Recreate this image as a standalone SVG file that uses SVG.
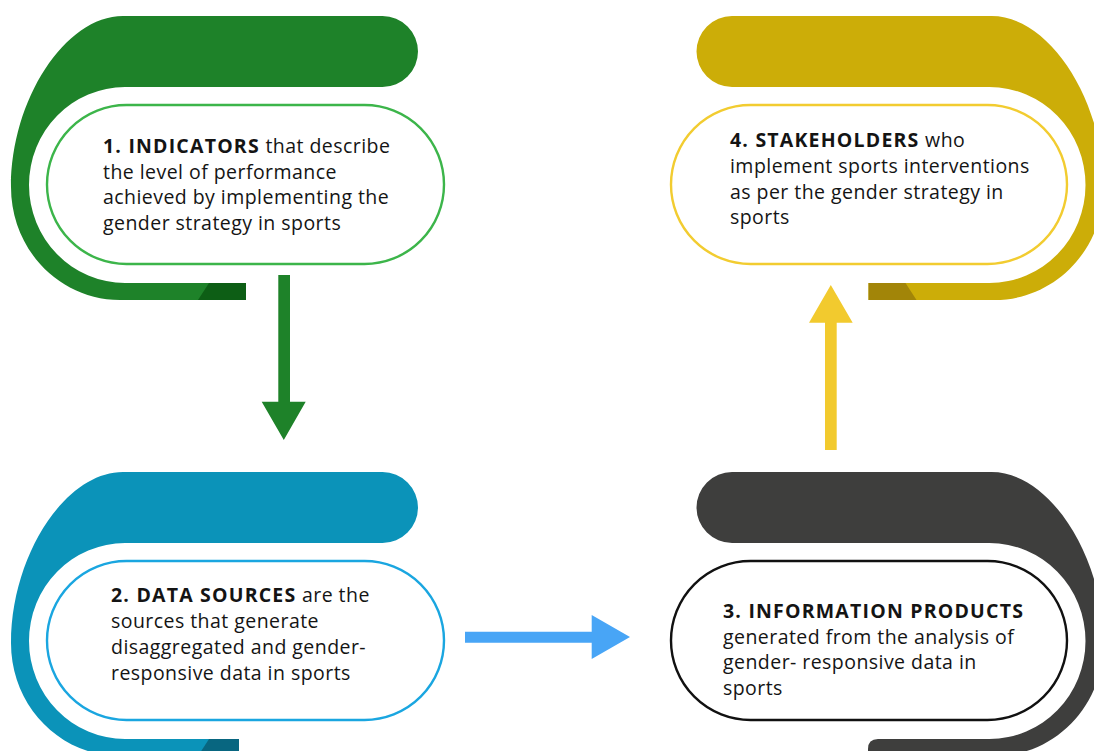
<svg xmlns="http://www.w3.org/2000/svg" width="1094" height="751" viewBox="0 0 1094 751">
  <style>
    .label { font-family: "Open Sans", Lato, "Liberation Sans", sans-serif; font-size: 19.5px; letter-spacing: 0.45px; fill: #141414; }
    .label .b { font-weight: 700; letter-spacing: 1.2px; }
    .pill { fill: #ffffff; stroke-width: 2.4; }
  </style>
  <defs>
    <!-- C-shaped band: top bar, curved spine, bottom tab (left-opening version) -->
    <path id="band" d="M 123,16 H 382.5 A 35.5,35.5 0 0 1 382.5,87 H 125 A 96,98 0 0 0 125,283 H 246 V 300 H 120 C 60,300 11,250 11,187 C 11,100 65,16 123,16 Z"/>
    <path id="bandShort" d="M 123,16 H 382.5 A 35.5,35.5 0 0 1 382.5,87 H 125 A 96,98 0 0 0 125,283 H 239 V 300 H 120 C 60,300 11,250 11,187 C 11,100 65,16 123,16 Z"/>
    <path id="bandRound" d="M 123,16 H 382.5 A 35.5,35.5 0 0 1 382.5,87 H 125 A 96,98 0 0 0 125,283 H 236.5 Q 246.5,283 246.5,293 V 300 H 120 C 60,300 11,250 11,187 C 11,100 65,16 123,16 Z"/>
  </defs>

  <rect width="1094" height="751" fill="#ffffff"/>

  <!-- 1. Indicators -->
  <g id="node-indicators">
    <use href="#band" fill="#1e8229"/>
    <polygon points="209,283 246,283 246,300 198,300" fill="#0d5e15"/>
    <rect class="pill" x="47" y="105" width="397" height="159" rx="79.5" stroke="#3cb54a"/>
    <text class="label" x="103" y="153"><tspan class="b">1. INDICATORS</tspan> that describe</text>
    <text class="label" x="103" y="178.5">the level of performance</text>
    <text class="label" x="103" y="204">achieved by implementing the</text>
    <text class="label" x="103" y="229.5">gender strategy in sports</text>
  </g>

  <!-- 2. Data sources -->
  <g id="node-data-sources">
    <use href="#bandShort" transform="translate(0,456)" fill="#0b93b9"/>
    <polygon points="209,739 239,739 239,756 198,756" fill="#086680"/>
    <rect class="pill" x="47" y="561" width="397" height="159" rx="79.5" stroke="#1aa6e0"/>
    <text class="label" x="111" y="602"><tspan class="b">2. DATA SOURCES</tspan> are the</text>
    <text class="label" x="111" y="628">sources that generate</text>
    <text class="label" x="111" y="654">disaggregated and gender-</text>
    <text class="label" x="111" y="680">responsive data in sports</text>
  </g>

  <!-- 3. Information products -->
  <g id="node-information-products">
    <use href="#bandRound" transform="translate(1114.5,456) scale(-1,1)" fill="#3e3e3d"/>
    <rect class="pill" x="671" y="561" width="396" height="159" rx="79.5" stroke="#111111"/>
    <text class="label" x="723" y="618"><tspan class="b">3. INFORMATION PRODUCTS</tspan></text>
    <text class="label" x="723" y="643.5">generated from the analysis of</text>
    <text class="label" x="723" y="669">gender- responsive data in</text>
    <text class="label" x="723" y="694.5">sports</text>
  </g>

  <!-- 4. Stakeholders -->
  <g id="node-stakeholders">
    <use href="#band" transform="translate(1114.5,0) scale(-1,1)" fill="#ccad08"/>
    <polygon points="905.5,283 868.5,283 868.5,300 916.5,300" fill="#a28508"/>
    <rect class="pill" x="671" y="105" width="396" height="159" rx="79.5" stroke="#f2cc30"/>
    <text class="label" x="730" y="147"><tspan class="b">4. STAKEHOLDERS</tspan> who</text>
    <text class="label" x="730" y="173">implement sports interventions</text>
    <text class="label" x="730" y="198.5">as per the gender strategy in</text>
    <text class="label" x="730" y="224">sports</text>
  </g>

  <!-- flow arrows -->
  <g id="connectors">
    <polygon points="278.3,275 290,275 290,401.7 305.7,401.7 283.8,440 261.7,401.7 278.3,401.7" fill="#1e8229"/>
    <polygon points="465,631.7 591.7,631.7 591.7,615 630,637 591.7,659 591.7,642.7 465,642.7" fill="#48a5f6"/>
    <polygon points="825,450 836.7,450 836.7,322.7 852.7,322.7 830.8,285 809,322.7 825,322.7" fill="#f2ca2e"/>
  </g>
</svg>
